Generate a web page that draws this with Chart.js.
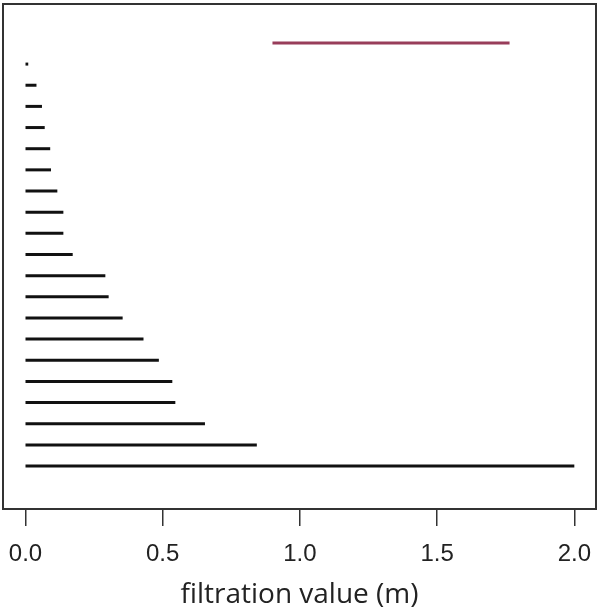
<!DOCTYPE html>
<html>
<head>
<meta charset="utf-8">
<script src="https://cdn.jsdelivr.net/npm/chart.js@4"></script>
<style>
  html, body { margin: 0; padding: 0; background: #fff; }
  #wrap { width: 600px; height: 614px; }
</style>
</head>
<body>
<div id="wrap"><canvas id="barcode"></canvas></div>
<script>
// persistence barcode: one bar per feature, top bar is dimension 1
const births = [0.90, 0, 0, 0, 0, 0, 0, 0, 0, 0, 0, 0, 0, 0, 0, 0, 0, 0, 0, 0, 0];
const deaths = [1.764, 0.01, 0.04, 0.06, 0.07, 0.09, 0.093, 0.116, 0.138, 0.138, 0.172,
                0.291, 0.303, 0.354, 0.43, 0.486, 0.535, 0.546, 0.654, 0.843, 2.0];
const dims = [1, 0, 0, 0, 0, 0, 0, 0, 0, 0, 0, 0, 0, 0, 0, 0, 0, 0, 0, 0, 0];
const xTicks = [0, 0.5, 1.0, 1.5, 2.0];

const dimColors = { 0: '#111111', 1: '#983d5a' };

const datasets = births.map((b, i) => ({
    data: [{ x: b, y: i }, { x: deaths[i], y: i }],
    borderColor: dimColors[dims[i]],
    borderWidth: 3,
    borderCapStyle: 'butt',
    pointRadius: 0,
    fill: false
}));

// box around the plot region
const boxPlugin = {
    id: 'box',
    afterDraw(chart) {
        const { ctx, chartArea: a } = chart;
        ctx.save();
        ctx.strokeStyle = '#333';
        ctx.lineWidth = 2;
        ctx.strokeRect(a.left, a.top, a.right - a.left, a.bottom - a.top);
        ctx.restore();
    }
};

new Chart(document.getElementById('barcode'), {
    type: 'line',
    data: { datasets },
    options: {
        responsive: true,
        maintainAspectRatio: false,
        animation: false,
        layout: { padding: { left: 3, right: 4, top: 4, bottom: 0 } },
        plugins: { legend: { display: false }, tooltip: { enabled: false } },
        scales: {
            x: {
                type: 'linear',
                min: -0.082,
                max: 2.079,
                afterBuildTicks: axis => { axis.ticks = xTicks.map(v => ({ value: v })); },
                afterFit: axis => {
                    // keep the plot box full width, fixed axis band height
                    axis.paddingLeft = 0;
                    axis.paddingRight = 0;
                    axis.height = 105;
                },
                grid: { drawOnChartArea: false, tickLength: 17, color: '#333', lineWidth: 1.5 },
                border: { display: false },
                ticks: {
                    color: '#222',
                    padding: 14,
                    maxRotation: 0,
                    font: { family: 'Arial, "Liberation Sans"', size: 24 },
                    callback: v => v.toFixed(1)
                },
                title: {
                    display: true,
                    text: 'filtration value (m)',
                    color: '#222',
                    padding: { top: 0, bottom: 2 },
                    font: { family: '"Open Sans"', size: 28 }
                }
            },
            y: {
                type: 'linear',
                display: false,
                reverse: true,
                min: -1.84,
                max: 22.03
            }
        }
    },
    plugins: [boxPlugin]
});
</script>
</body>
</html>
